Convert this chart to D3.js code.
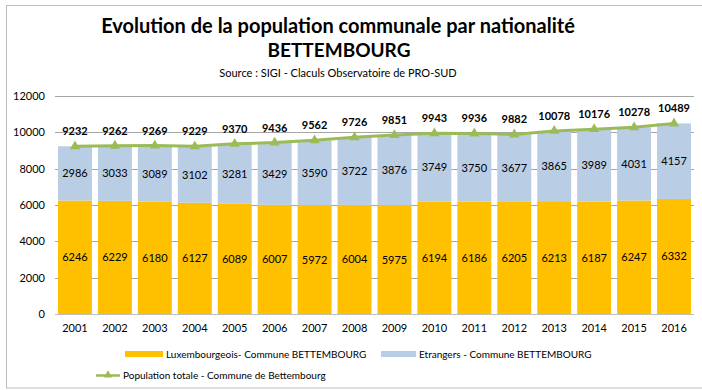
<!DOCTYPE html>
<meta charset="utf-8">
<style>
    body { margin: 0; overflow: hidden; background: #fff; }
    text { font-family: Lato, "Open Sans", sans-serif; fill: #000; }
</style>
<svg id="canvas" width="702" height="390"></svg>
<script src="https://d3js.org/d3.v7.min.js"></script>
<script>

    var years = ["2001", "2002", "2003", "2004", "2005", "2006", "2007", "2008",
                 "2009", "2010", "2011", "2012", "2013", "2014", "2015", "2016"];
    var luxembourgeois = [6246, 6229, 6180, 6127, 6089, 6007, 5972, 6004,
                          5975, 6194, 6186, 6205, 6213, 6187, 6247, 6332];
    var etrangers = [2986, 3033, 3089, 3102, 3281, 3429, 3590, 3722,
                     3876, 3749, 3750, 3677, 3865, 3989, 4031, 4157];
    var total = [9232, 9262, 9269, 9229, 9370, 9436, 9562, 9726,
                 9851, 9943, 9936, 9882, 10078, 10176, 10278, 10489];
    var yTicks = [0, 2000, 4000, 6000, 8000, 10000, 12000];

    var svg = d3.select("svg");

    // outer frame
    svg.append("rect")
       .attr("x", 6.5).attr("y", 5.5)
       .attr("width", 702).attr("height", 382.5)
       .attr("fill", "none").attr("stroke", "#bfbfbf");

    svg.append("text").attr("x", 338).attr("y", 33)
       .attr("text-anchor", "middle").attr("font-size", 20).attr("font-weight", "bold")
       .text("Evolution de la population communale par nationalité");
    svg.append("text").attr("x", 339).attr("y", 57)
       .attr("text-anchor", "middle").attr("font-size", 19).attr("font-weight", "bold")
       .text("BETTEMBOURG");
    svg.append("text").attr("x", 338).attr("y", 77)
       .attr("text-anchor", "middle").attr("font-size", 11)
       .text("Source : SIGI - Claculs Observatoire de PRO-SUD");

    var x = d3.scaleBand().domain(years).range([55, 694]).paddingInner(0.15).paddingOuter(0.075);
    var y = d3.scaleLinear().domain([0, 12000]).range([314, 96]);

    // grid
    svg.append("g")
       .selectAll("line")
       .data(yTicks)
       .enter().append("line")
       .attr("x1", 55).attr("x2", 694)
       .attr("y1", function(d) { return Math.round(y(d)) + 0.5; })
       .attr("y2", function(d) { return Math.round(y(d)) + 0.5; })
       .attr("stroke", function(d) { return d === 0 ? "#bfbfbf" : "#a6a6a6"; })
       .attr("stroke-width", 1);

    var yAxis = svg.append("g")
       .attr("transform", "translate(55,0)")
       .call(d3.axisLeft(y).tickValues(yTicks).tickSize(0).tickPadding(10).tickFormat(d3.format("d")));
    yAxis.select(".domain").remove();
    yAxis.selectAll("text").attr("font-size", 11).attr("font-family", "Lato, sans-serif").attr("fill", "#000");

    var xAxis = svg.append("g")
       .attr("transform", "translate(0,314)")
       .call(d3.axisBottom(x).tickSize(0).tickPadding(10));
    xAxis.select(".domain").remove();
    xAxis.selectAll("text").attr("font-size", 11).attr("font-family", "Lato, sans-serif").attr("fill", "#000");

    // bars
    svg.append("g").selectAll("rect")
       .data(years)
       .enter().append("rect")
       .attr("x", function(d) { return x(d); })
       .attr("width", x.bandwidth())
       .attr("y", function(d, i) { return y(luxembourgeois[i]); })
       .attr("height", function(d, i) { return y(0) - y(luxembourgeois[i]); })
       .attr("fill", "#ffc000");

    svg.append("g").selectAll("rect")
       .data(years)
       .enter().append("rect")
       .attr("x", function(d) { return x(d); })
       .attr("width", x.bandwidth())
       .attr("y", function(d, i) { return y(luxembourgeois[i] + etrangers[i]); })
       .attr("height", function(d, i) { return y(luxembourgeois[i]) - y(luxembourgeois[i] + etrangers[i]); })
       .attr("fill", "#b9cde5");

    // segment labels
    svg.append("g").selectAll("text")
       .data(years)
       .enter().append("text")
       .attr("x", function(d) { return x(d) + x.bandwidth() / 2; })
       .attr("y", function(d, i) { return y(luxembourgeois[i] / 2) + 4; })
       .attr("text-anchor", "middle").attr("font-size", 11)
       .text(function(d, i) { return luxembourgeois[i]; });

    svg.append("g").selectAll("text")
       .data(years)
       .enter().append("text")
       .attr("x", function(d) { return x(d) + x.bandwidth() / 2; })
       .attr("y", function(d, i) { return y(luxembourgeois[i] + etrangers[i] / 2) + 4; })
       .attr("text-anchor", "middle").attr("font-size", 11)
       .text(function(d, i) { return etrangers[i]; });

    // total line
    var line = d3.line()
       .x(function(d, i) { return x(years[i]) + x.bandwidth() / 2; })
       .y(function(d) { return y(d); });

    svg.append("path")
       .datum(total)
       .attr("d", line)
       .attr("fill", "none")
       .attr("stroke", "#9bbb59")
       .attr("stroke-width", 3);

    svg.append("g").selectAll("path")
       .data(total)
       .enter().append("path")
       .attr("transform", function(d, i) { return "translate(" + (x(years[i]) + x.bandwidth() / 2) + "," + y(d) + ")"; })
       .attr("d", d3.symbol().type(d3.symbolTriangle).size(45))
       .attr("fill", "#9bbb59");

    svg.append("g").selectAll("text")
       .data(total)
       .enter().append("text")
       .attr("x", function(d, i) { return x(years[i]) + x.bandwidth() / 2; })
       .attr("y", function(d) { return y(d) - 11; })
       .attr("text-anchor", "middle").attr("font-size", 11).attr("font-weight", "bold")
       .text(function(d) { return d; });

    // legend
    var legend = svg.append("g").attr("font-size", 10);
    legend.append("rect").attr("x", 125).attr("y", 351).attr("width", 38).attr("height", 6).attr("fill", "#ffc000");
    legend.append("text").attr("x", 166).attr("y", 358).attr("font-size", 10).text("Luxembourgeois- Commune BETTEMBOURG");
    legend.append("rect").attr("x", 381).attr("y", 351).attr("width", 35).attr("height", 6).attr("fill", "#b9cde5");
    legend.append("text").attr("x", 419).attr("y", 358).attr("font-size", 10).text("Etrangers - Commune BETTEMBOURG");
    legend.append("line").attr("x1", 96).attr("x2", 120).attr("y1", 375.5).attr("y2", 375.5)
       .attr("stroke", "#9bbb59").attr("stroke-width", 2.5);
    legend.append("path").attr("transform", "translate(108,375)")
       .attr("d", d3.symbol().type(d3.symbolTriangle).size(30)).attr("fill", "#9bbb59");
    legend.append("text").attr("x", 123).attr("y", 379).attr("font-size", 10).text("Population totale - Commune de Bettembourg");

</script>
